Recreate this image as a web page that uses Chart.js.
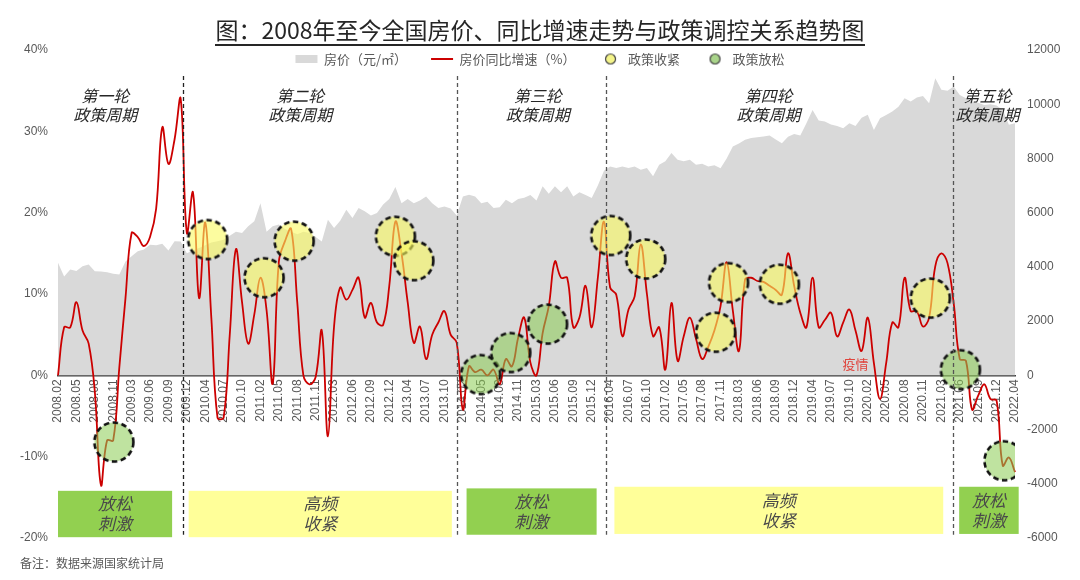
<!DOCTYPE html>
<html><head><meta charset="utf-8">
<script src="https://cdn.jsdelivr.net/npm/chart.js@4.4.1/dist/chart.umd.min.js"></script>
<style>
html,body{margin:0;padding:0;background:#fff;}
#wrap{position:relative;width:1080px;height:580px;overflow:hidden;}
canvas{position:absolute;left:0;top:0;}
#title{position:absolute;left:0;top:12px;width:1080px;text-align:center;font-family:"Noto Sans CJK SC",sans-serif;font-size:23px;color:#262626;}
#title span{display:inline-block;line-height:26px;border-bottom:2px solid #262626;padding-bottom:2px;}
#note{position:absolute;left:20px;top:554px;font-family:"Noto Sans CJK SC",sans-serif;font-size:12px;color:#595959;}
</style></head>
<body><div id="wrap"><canvas id="c" width="1080" height="580"></canvas>
<div id="title"><span>图：2008年至今全国房价、同比增速走势与政策调控关系趋势图</span></div>
<div id="note">备注：数据来源国家统计局</div></div>
<script>
// ---- data ----
const years = [2008,2009,2010,2011,2012,2013,2014,2015,2016,2017,2018,2019,2020,2021,2022];
const lastMonth2022 = 4;
const months = [];
years.forEach(y => { const last = y === 2022 ? lastMonth2022 : 12; for (let m = 2; m <= last; m++) months.push(y + '.' + String(m).padStart(2,'0')); });

const growth = [
 0, 5.9, 5.9, 9.0, 5.5, 3.9, -2.0, -13.5, -8.0, -8.0,
 1.0, 9.5, 17.5, 17.0, 15.9, 17.0, 20.5, 30.5, 26.0, 29.0,
 34.0, 17.5, 22.5, 9.5, 18.8, 7.0, -5.2, -5.2, 5.0, 15.5,
 9.0, 3.9, 7.5, 12.0, 8.0, -1.0, 14.0, 16.5, 18.0, 9.0,
 0.0, -1.1, -0.2, 5.5, -7.5, 6.0, 10.8, 9.3, 10.5, 12.0,
 7.1, 8.9, 6.5, 6.2, 11.0, 18.9, 15.0, 9.0, 4.0, 6.0,
 2.0, 5.0, 6.5, 7.9, 5.0, 4.0, -4.2, 1.1, 0.4, 0.7,
 0.0, 0.7, -1.1, 2.0, 1.1, 4.6, 7.1, 1.6, 0.0, 5.2,
 8.5, 14.0, 12.0, 12.0, 5.9, 7.1, 11.0, 5.9, 12.0, 18.9,
 10.8, 9.9, 4.8, 8.1, 9.7, 16.1, 10.0, 4.8, 5.9, 0.7,
 8.9, 1.8, 4.8, 7.1, 4.5, 2.0, 3.5, 5.5, 8.5, 13.9,
 8.0, 3.0, 11.8, 12.0, 11.6, 11.5, 11.0, 10.5, 9.9, 15.0,
 11.0, 7.7, 5.9, 12.0, 5.9, 6.8, 7.7, 4.8, 6.5, 8.1,
 5.5, 3.0, 7.1, 1.5, -2.9, 1.5, 6.5, 5.9, 12.0, 7.9,
 7.9, 6.0, 7.1, 13.4, 15.0, 13.8, 8.9, 2.0, 1.8, -4.2,
 -2.5, -1.1, -2.9, -3.1, -11.1, -10.1, -11.9
];
const price = [
 4150, 3650, 3900, 3850, 4020, 4090, 3840, 3830, 3800, 3750,
 3720, 4200, 4390, 4580, 4640, 4820, 4800, 4850, 4600, 4950,
 4940, 4500, 4600, 4700, 4800, 4900, 4950, 5000, 5150, 5300,
 5250, 5500, 5680, 6350, 5300, 5500, 5560, 5400, 5300, 5200,
 5300, 5250, 5100, 4940, 5740, 5430, 5700, 6110, 5800, 6170,
 6050, 5900, 5990, 6300, 6500, 6950, 6350, 6500, 6350, 6450,
 6600, 6350, 6170, 6230, 6150, 5900, 6600, 6660, 6600, 6350,
 6400, 6170, 6200, 6480, 6350, 6500, 6550, 6650, 6450, 6970,
 6700, 6970, 6750, 6970, 6600, 6750, 6650, 6540, 7000, 7550,
 7700, 7650, 7700, 7650, 7700, 7580, 7650, 7340, 7770, 7900,
 8200, 7950, 7900, 7950, 7770, 7800, 7700, 7750, 7640, 8000,
 8440, 8550, 8690, 8750, 8780, 8810, 8850, 8700, 8560, 8800,
 8900, 8850, 9300, 9790, 9400, 9360, 9250, 9200, 9110, 9300,
 9200, 9500, 9610, 9050, 9480, 9600, 9730, 9910, 10220, 10100,
 10250, 10300, 10040, 10960, 10530, 10500, 10650, 10340, 10220, 10100,
 10050, 9970, 10000, 9950, 9790, 9240, 9300
];
// policy markers: position in month index, value in %
const tightenIdx = [24.4, 33.6, 38.5, 55.0, 58.0, 90.1, 95.8, 107.2, 109.3, 117.6, 142.2];
const tightenVal = [16.7, 12.0, 16.5, 17.1, 14.1, 17.2, 14.3, 5.3, 11.4, 11.2, 9.5];
const easeIdx = [9.1, 68.9, 73.8, 79.8, 147.1, 154.2];
const easeVal = [-8.2, 0.1, 2.8, 6.3, 0.7, -10.5];

const seriesNames = ['房价（元/㎡）', '房价同比增速（%）', '政策收紧', '政策放松'];
const cycleNames = [['第一轮','政策周期'],['第二轮','政策周期'],['第三轮','政策周期'],['第四轮','政策周期'],['第五轮','政策周期']];
const cycleCenters = [7.7, 39.5, 78.2, 115.8, 151.5];
const cycleBreaks = [20.3, 65.0, 89.3, 145.9];
const phaseTexts = [['放松','刺激'],['高频','收紧'],['放松','刺激'],['高频','收紧'],['放松','刺激']];
const phaseKinds = ['ease','tight','ease','tight','ease'];
const phaseSpans = [[0,18.6],[21.3,64.2],[66.6,87.8],[90.7,144.3],[146.9,156.6]];
const eventText = '疫情';
const eventAt = [130, 1.35];

// ---- styles ----
const C_RED = '#cc0000', C_GRAY = '#d9d9d9', C_TXT = '#595959';
const boxTopBot = [[-14.2,-19.9],[-14.2,-19.9],[-13.9,-19.6],[-13.7,-19.5],[-13.7,-19.5]];
const LEGEND_CENTER_Y = 59;

function dashedCircle(fill) {
  const s = 46, c = document.createElement('canvas');
  c.width = s; c.height = s;
  const g = c.getContext('2d');
  g.beginPath(); g.arc(s/2, s/2, 19.5, 0, Math.PI*2);
  g.fillStyle = fill; g.fill();
  g.setLineDash([5.5, 3.5]); g.lineWidth = 2.6; g.strokeStyle = '#111'; g.stroke();
  return c;
}
function smallCircle(fill) {
  const s = 13, c = document.createElement('canvas');
  c.width = s; c.height = s;
  const g = c.getContext('2d');
  g.beginPath(); g.arc(s/2, s/2, 5, 0, Math.PI*2);
  g.fillStyle = fill; g.fill();
  g.lineWidth = 1.2; g.strokeStyle = '#444'; g.stroke();
  return c;
}
const yellowCircle = dashedCircle('rgba(250,250,95,0.6)');
const greenCircle = dashedCircle('rgba(140,205,85,0.56)');
const yellowDot = smallCircle('#f4f48a');
const greenDot = smallCircle('#a9d48a');

const annot = {
  id: 'annot',
  afterLayout(chart) {
    const lg = chart.legend;
    lg.top = LEGEND_CENTER_Y - lg.options.labels.padding - 6.5;
    lg.bottom = lg.top + 60;
    lg.height = 60;
  },
  afterDatasetsDraw(chart) {
    const ctx = chart.ctx, xs = chart.scales.xl, ys = chart.scales.y;
    ctx.save();
    phaseSpans.forEach((r, i) => {
      const x0 = xs.getPixelForValue(r[0]), x1 = xs.getPixelForValue(r[1]);
      const y0 = ys.getPixelForValue(boxTopBot[i][0]), y1 = ys.getPixelForValue(boxTopBot[i][1]);
      ctx.fillStyle = phaseKinds[i] === 'ease' ? '#92d050' : '#ffff99';
      ctx.fillRect(x0, y0, x1 - x0, y1 - y0);
      ctx.fillStyle = '#4a4a4a';
      ctx.font = 'italic 17px "Noto Sans CJK SC"';
      ctx.textAlign = 'center'; ctx.textBaseline = 'middle';
      const cx = (x0 + x1) / 2, cy = (y0 + y1) / 2;
      ctx.fillText(phaseTexts[i][0], cx, cy - 10);
      ctx.fillText(phaseTexts[i][1], cx, cy + 10);
    });
    ctx.setLineDash([4, 3]);
    ctx.lineWidth = 1.3;
    cycleBreaks.forEach((b, i) => {
      const x = Math.round(xs.getPixelForValue(b)) + 0.5;
      ctx.strokeStyle = i === 0 ? '#222' : '#555';
      ctx.beginPath();
      ctx.moveTo(x, ys.getPixelForValue(36.8));
      ctx.lineTo(x, ys.getPixelForValue(-19.6));
      ctx.stroke();
    });
    ctx.setLineDash([]);
    ctx.fillStyle = '#262626';
    ctx.font = 'italic 16px "Noto Sans CJK SC"';
    ctx.textAlign = 'center'; ctx.textBaseline = 'middle';
    cycleNames.forEach((n, i) => {
      const x = xs.getPixelForValue(cycleCenters[i]);
      ctx.fillText(n[0], x, ys.getPixelForValue(34.3));
      ctx.fillText(n[1], x, ys.getPixelForValue(32.0));
    });
    ctx.fillStyle = '#e0443c';
    ctx.font = '13px "Noto Sans CJK SC"';
    ctx.fillText(eventText, xs.getPixelForValue(eventAt[0]), ys.getPixelForValue(eventAt[1]));
    ctx.restore();
  }
};

Chart.defaults.font.family = '"Liberation Sans", "Noto Sans CJK SC", sans-serif';
Chart.defaults.color = C_TXT;

new Chart(document.getElementById('c'), {
  type: 'line',
  data: {
    labels: months,
    datasets: [
      { label: seriesNames[0], data: price, yAxisID: 'y1', xAxisID: 'x', fill: 'origin',
        backgroundColor: C_GRAY, borderWidth: 0, pointRadius: 0, tension: 0, order: 3 },
      { label: seriesNames[1], data: growth, yAxisID: 'y', xAxisID: 'x', fill: false,
        borderColor: C_RED, borderWidth: 1.8, pointRadius: 0, tension: 0.4, order: 2 },
      { type: 'scatter', label: seriesNames[2], xAxisID: 'xl', yAxisID: 'y',
        data: tightenIdx.map((x, i) => ({ x: x, y: tightenVal[i] })),
        pointStyle: yellowCircle, pointRadius: 20, pointHoverRadius: 20, order: 1 },
      { type: 'scatter', label: seriesNames[3], xAxisID: 'xl', yAxisID: 'y',
        data: easeIdx.map((x, i) => ({ x: x, y: easeVal[i] })),
        pointStyle: greenCircle, pointRadius: 20, pointHoverRadius: 20, order: 0 }
    ]
  },
  options: {
    responsive: false,
    animation: false,
    events: [],
    layout: { padding: { top: 48, bottom: 42, left: 0, right: 0 } },
    plugins: {
      tooltip: { enabled: false },
      title: { display: false },
      legend: {
        position: 'top',
        align: 'center',
        maxHeight: 2,
        labels: {
          usePointStyle: true, pointStyleWidth: 22, boxHeight: 8, padding: 24,
          font: { size: 13, family: '"Noto Sans CJK SC", sans-serif' }, color: C_TXT,
          generateLabels: () => [
            { text: seriesNames[0], fillStyle: C_GRAY, strokeStyle: C_GRAY, lineWidth: 0, pointStyle: 'rect', fontColor: C_TXT, hidden: false, datasetIndex: 0 },
            { text: seriesNames[1], fillStyle: C_RED, strokeStyle: C_RED, lineWidth: 2, pointStyle: 'line', fontColor: C_TXT, hidden: false, datasetIndex: 1 },
            { text: seriesNames[2], fillStyle: '#f4f48a', strokeStyle: '#444', lineWidth: 1, pointStyle: yellowDot, fontColor: C_TXT, hidden: false, datasetIndex: 2 },
            { text: seriesNames[3], fillStyle: '#a9d48a', strokeStyle: '#444', lineWidth: 1, pointStyle: greenDot, fontColor: C_TXT, hidden: false, datasetIndex: 3 }
          ]
        }
      }
    },
    scales: {
      x: {
        type: 'category',
        position: { y: 0 },
        offset: false,
        grid: { display: false, drawTicks: false },
        border: { display: true, color: '#404040', width: 1.5 },
        ticks: {
          autoSkip: false, minRotation: 90, maxRotation: 90, padding: 4,
          font: { size: 12 }, color: C_TXT,
          callback: (v, i) => (i % 3 === 0 ? months[i] : null)
        }
      },
      xl: { type: 'linear', display: false, min: 0, max: months.length - 1 },
      y: {
        position: 'left', min: -20, max: 40,
        grid: { display: false, drawTicks: false },
        border: { display: false },
        afterFit: s => { s.width = 58; },
        ticks: { stepSize: 10, padding: 10, font: { size: 12 }, color: C_TXT, callback: v => v + '%' }
      },
      y1: {
        position: 'right', min: -6000, max: 12000,
        grid: { display: false, drawTicks: false },
        border: { display: false },
        afterFit: s => { s.width = 65; },
        ticks: { stepSize: 2000, padding: 12, font: { size: 12 }, color: C_TXT, callback: v => String(v) }
      }
    }
  },
  plugins: [annot]
});
</script>
</body></html>
